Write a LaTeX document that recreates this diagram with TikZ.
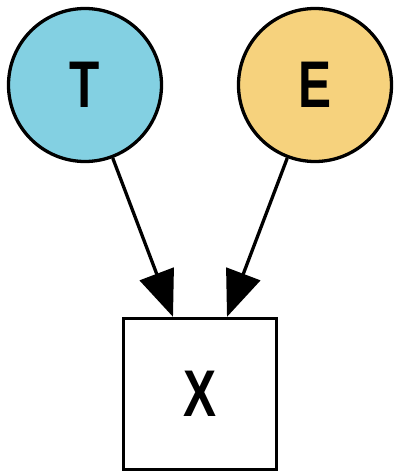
\documentclass[tikz,border=0pt]{standalone}
\usepackage{fontspec}
\setmainfont{Liberation Sans}
\usetikzlibrary{arrows.meta}
\definecolor{tcol}{RGB}{131,208,226}
\definecolor{ecol}{RGB}{246,210,125}
\tikzset{
  var/.style={circle, draw=black, line width=3.3pt, minimum size=153pt, inner sep=0pt,
    font=\fontsize{66}{66}\selectfont\bfseries},
  obs/.style={rectangle, draw=black, line width=3.3pt, minimum width=153pt, minimum height=151pt,
    inner sep=0pt, font=\fontsize{66}{66}\selectfont\bfseries},
  edge/.style={line width=3.3pt, -{Triangle[length=46pt,width=36pt]}}
}
\newcommand{\narrow}[1]{\scalebox{0.75}[1]{#1}}
\begin{document}
\begin{tikzpicture}[x=1pt,y=1pt]
  \useasboundingbox (0,0) rectangle (394,-471);
  \node[var, fill=tcol] (T) at (85,-85) {\narrow{T}};
  \node[var, fill=ecol] (E) at (315,-85) {\narrow{E}};
  \node[obs] (X) at (200,-394) {\narrow{X}};
  \coordinate (xl) at ([xshift=-27pt]X.north);
  \coordinate (xr) at ([xshift=27pt]X.north);
  \draw[edge] (T) -- (xl);
  \draw[edge] (E) -- (xr);
\end{tikzpicture}
\end{document}
